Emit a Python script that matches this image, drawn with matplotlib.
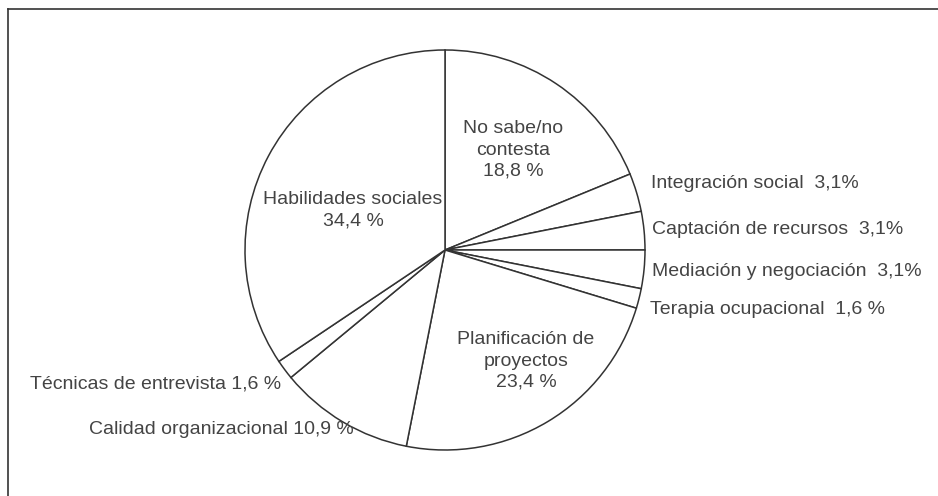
import matplotlib
matplotlib.use("Agg")
import matplotlib.pyplot as plt
from matplotlib.lines import Line2D

categories = ["No sabe/no contesta", "Integración social", "Captación de recursos",
              "Mediación y negociación", "Terapia ocupacional", "Planificación de proyectos",
              "Calidad organizacional", "Técnicas de entrevista", "Habilidades sociales"]
values = [18.8, 3.1, 3.1, 3.1, 1.6, 23.4, 10.9, 1.6, 34.4]
label_texts = ["No sabe/no\ncontesta\n18,8 %", "Integración social  3,1%",
               "Captación de recursos  3,1%", "Mediación y negociación  3,1%",
               "Terapia ocupacional  1,6 %", "Planificación de\nproyectos\n23,4 %",
               "Calidad organizacional 10,9 %", "Técnicas de entrevista 1,6 %",
               "Habilidades sociales\n34,4 %"]

# label layout (pixel positions in the image) and alignment
label_px = [(513, 150), (651, 183), (652, 230), (652, 271), (650, 310),
            (526, 361), (354, 430), (281, 384), (353, 210)]
label_ha = ["center", "left", "left", "left", "left", "center", "right", "right", "center"]

W, H = 938, 496
fig = plt.figure(figsize=(W / 100, H / 100), dpi=100)
plt.rcParams['font.family'] = ['Liberation Sans', 'DejaVu Sans']

cx, cy, r = 445, 250, 200
ax = fig.add_axes([(cx - r) / W, (H - cy - r) / H, 2 * r / W, 2 * r / H])
ax.pie(values, startangle=90, counterclock=False, radius=1,
       colors=["white"] * len(values),
       wedgeprops=dict(edgecolor="#333333", linewidth=1.1))
ax.set_xlim(-1, 1)
ax.set_ylim(-1, 1)
ax.set_axis_off()

txtcolor = "#444444"
for t, (px, py), ha in zip(label_texts, label_px, label_ha):
    fig.text(px / W, 1 - py / H, t, ha=ha, va="center", fontsize=14,
             color=txtcolor, linespacing=1.32, multialignment="center")

# partial frame (top and left edges)
fig.add_artist(Line2D([8 / W, 8 / W], [0, 1 - 9 / H], transform=fig.transFigure,
                      color="#333333", linewidth=1.2))
fig.add_artist(Line2D([8 / W, 1], [1 - 9 / H, 1 - 9 / H], transform=fig.transFigure,
                      color="#333333", linewidth=1.2))

fig.savefig("out.png", dpi=100, facecolor="white")
